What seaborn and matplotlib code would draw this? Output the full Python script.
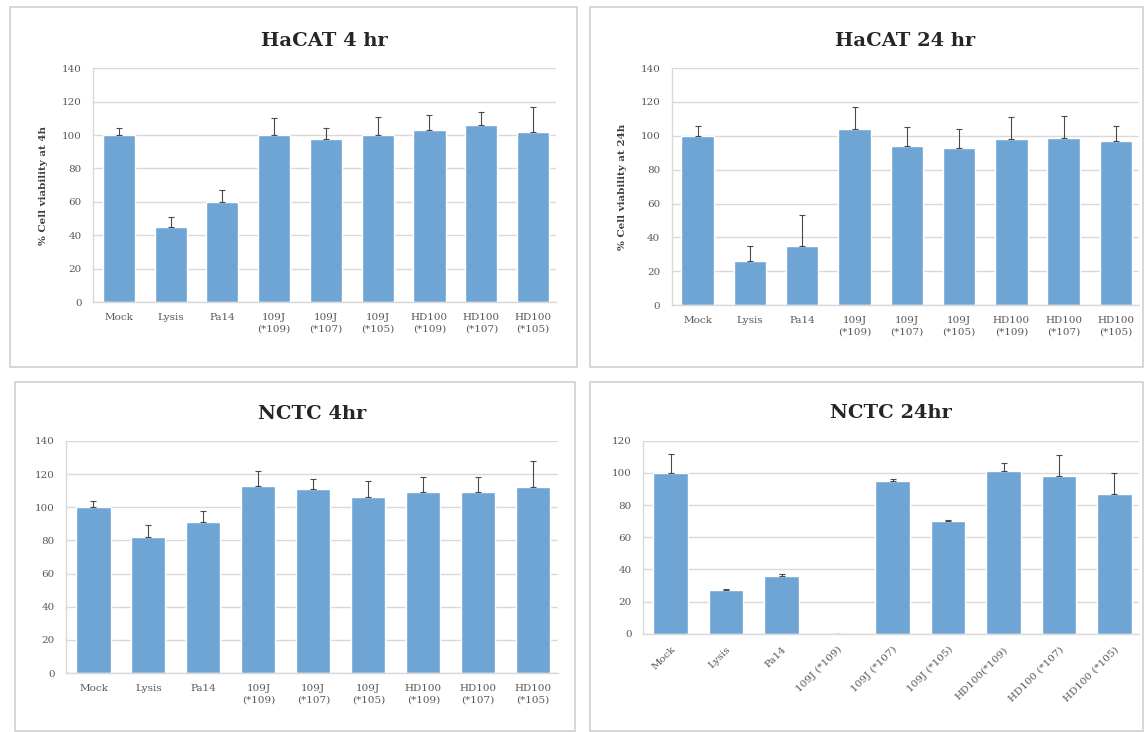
import pandas as pd
import matplotlib.pyplot as plt
import seaborn as sns
from matplotlib.patches import Rectangle

# group names
groups = ['Mock', 'Lysis', 'Pa14', '109J (*109)', '109J (*107)', '109J (*105)',
          'HD100 (*109)', 'HD100 (*107)', 'HD100 (*105)']
labels_wrapped = ['Mock', 'Lysis', 'Pa14', '109J\n(*109)', '109J\n(*107)', '109J\n(*105)',
                  'HD100\n(*109)', 'HD100\n(*107)', 'HD100\n(*105)']
labels_rotated = ['Mock', 'Lysis', 'Pa14', '109J (*109)', '109J (*107)', '109J (*105)',
                  'HD100(*109)', 'HD100 (*107)', 'HD100 (*105)']

# % viability (mean) and upper error (sd)
hacat_4h = [100, 45, 60, 100, 97.5, 100, 103, 106, 102]
hacat_4h_err = [4, 6, 7, 10, 6.5, 11, 9, 8, 15]
hacat_24h = [100, 26, 35, 104, 94, 93, 98, 99, 97]
hacat_24h_err = [6, 9, 18, 13, 11, 11, 13, 13, 9]
nctc_4h = [100, 82, 91, 113, 111, 106, 109, 109, 112]
nctc_4h_err = [4, 7, 7, 9, 6, 10, 9, 9, 16]
nctc_24h = [100, 27, 36, 0, 95, 70, 101, 98, 87]
nctc_24h_err = [12, 1, 1, 0, 1, 1, 5, 13, 13]

bar_color = '#6fa5d4'
txt_gray = '#595959'

sns.set_theme(style='white')
plt.rcParams['font.family'] = ['DejaVu Serif']

fig = plt.figure(figsize=(11.44, 7.32), dpi=100)

# panel frames (figure px: x0, y0_top, x1, y1_bottom)
for x0, y0, x1, y1 in [(10, 7, 577, 367), (590, 7, 1143, 367),
                       (15, 382, 575, 731), (590, 382, 1143, 731)]:
    fig.patches.append(Rectangle((x0 / 1144, 1 - y1 / 732), (x1 - x0) / 1144, (y1 - y0) / 732,
                                 transform=fig.transFigure, fill=False,
                                 edgecolor='#d0d0d0', linewidth=1.2))

panels = [
    ('HaCAT 4 hr', hacat_4h, hacat_4h_err, [0.0813, 0.587, 0.405, 0.320], 140, '% Cell viability at 4h', False),
    ('HaCAT 24 hr', hacat_24h, hacat_24h_err, [0.587, 0.583, 0.409, 0.324], 140, '% Cell viability at 24h', False),
    ('NCTC 4hr', nctc_4h, nctc_4h_err, [0.0577, 0.0806, 0.430, 0.317], 140, None, False),
    ('NCTC 24hr', nctc_24h, nctc_24h_err, [0.562, 0.134, 0.434, 0.264], 120, None, True),
]

for title, vals, errs, pos, ymax, ylabel, rotated in panels:
    ax = fig.add_axes(pos)
    df = pd.DataFrame({'group': groups, 'value': vals})
    sns.barplot(data=df, x='group', y='value', color=bar_color, saturation=1,
                width=0.62, ax=ax)
    ax.errorbar(range(len(vals)), vals, yerr=[[0] * len(errs), errs], fmt='none',
                ecolor='#4a4a4a', elinewidth=0.8, capsize=2, capthick=0.8)
    ax.set_ylim(0, ymax)
    ax.set_xlim(-0.5, 8.45)
    ax.set_yticks(range(0, ymax + 1, 20))
    ax.yaxis.grid(True, color='#d9d9d9', linewidth=1)
    ax.set_axisbelow(True)
    for s in ['top', 'right']:
        ax.spines[s].set_visible(False)
    for s in ['left', 'bottom']:
        ax.spines[s].set_color('#d9d9d9')
        ax.spines[s].set_linewidth(1)
    ax.tick_params(axis='both', length=0, labelsize=7.5, labelcolor=txt_gray, pad=8)
    if rotated:
        ax.set_xticks(range(len(groups)))
        ax.set_xticklabels(labels_rotated, rotation=45, ha='right', rotation_mode='anchor')
    else:
        ax.set_xticks(range(len(groups)))
        ax.set_xticklabels(labels_wrapped, linespacing=1.3)
    ax.set_xlabel('')
    if ylabel:
        ax.set_ylabel(ylabel, fontsize=7.5, fontweight='bold', color='#404040', labelpad=10)
    else:
        ax.set_ylabel('')
    ax.set_title(title, fontsize=14, fontweight='bold', color='#262626', pad=16)

fig.savefig('out.png', dpi=100, facecolor='white')
